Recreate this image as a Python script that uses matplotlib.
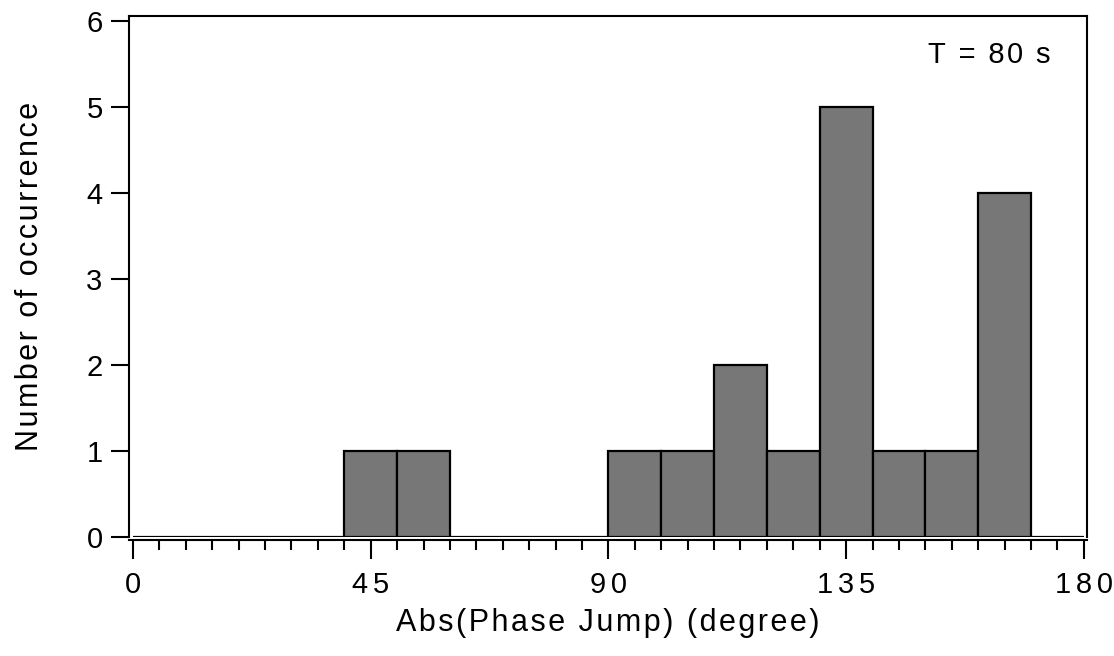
import numpy as np
import matplotlib
matplotlib.use("Agg")
import matplotlib.pyplot as plt
from matplotlib.ticker import MultipleLocator

# histogram bins (degree) and counts
bin_edges = list(range(0, 190, 10))
counts = [0, 0, 0, 0, 1, 1, 0, 0, 0, 1, 1, 2, 1, 5, 1, 1, 4, 0]
x_ticks = [0, 45, 90, 135, 180]
y_ticks = [0, 1, 2, 3, 4, 5, 6]
xlabel = "Abs(Phase Jump) (degree)"
ylabel = "Number of occurrence"
note = "T = 80 s"

plt.rcParams['font.family'] = ['Liberation Sans', 'DejaVu Sans']


def spaced(s, gap="\u200a"):
    # letter spacing like the original (hair space)
    return gap.join(s)


fig = plt.figure(figsize=(11.14, 6.56), dpi=100)
ax = fig.add_axes([0.1158, 0.181, 0.86, 0.795])

lefts = np.array(bin_edges[:-1])
widths = np.diff(bin_edges)
ax.bar(lefts, counts, width=widths, align='edge', color='#777777',
       edgecolor='black', linewidth=1.6)

ax.set_xlim(-0.75, 180.6)
ax.set_ylim(0, 6.06)

ax.set_xticks(x_ticks)
ax.set_xticklabels([spaced(str(t), "\u200a\u200a") for t in x_ticks])
ax.xaxis.set_minor_locator(MultipleLocator(5))
ax.set_yticks(y_ticks)
ax.set_yticklabels([str(t) for t in y_ticks])

ax.tick_params(axis='x', which='major', direction='out', length=14, width=1.5,
               labelsize=21, pad=8)
ax.tick_params(axis='x', which='minor', direction='out', length=7, width=1.5)
ax.tick_params(axis='y', which='major', direction='out', length=13, width=1.5,
               labelsize=21, pad=6)

for sp in ax.spines.values():
    sp.set_linewidth(1.5)
ax.spines['bottom'].set_position(('outward', 2))

ax.set_xlabel(spaced(xlabel), fontsize=22, labelpad=7)
ax.set_ylabel(spaced(ylabel), fontsize=22, labelpad=30)

ax.text(0.962, 0.925, spaced(note), transform=ax.transAxes, ha='right',
        va='center', fontsize=21)

fig.savefig("out.png", dpi=100)
